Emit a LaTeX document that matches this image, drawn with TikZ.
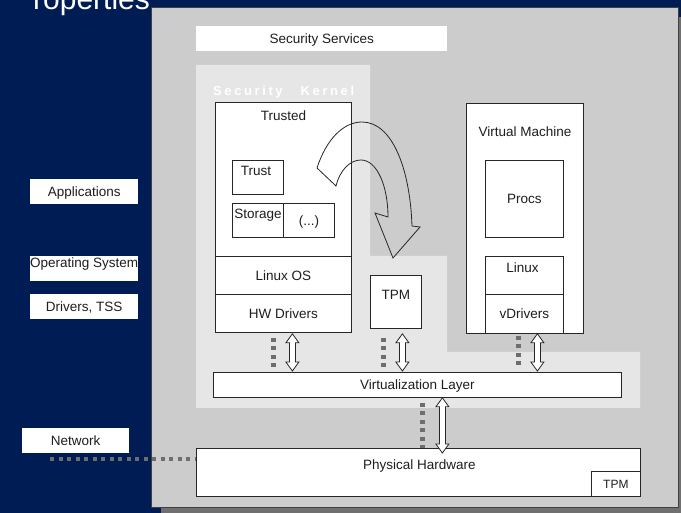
\documentclass[tikz,border=0pt]{standalone}
\usepackage{fontspec}
\setmainfont{Liberation Sans}
\usetikzlibrary{calc}
\definecolor{navy}{RGB}{0,28,84}
\definecolor{panel}{RGB}{204,204,204}
\definecolor{lite}{RGB}{230,230,230}
\definecolor{shadowc}{RGB}{112,112,112}
\definecolor{dotc}{RGB}{110,110,110}
\definecolor{txt}{RGB}{30,30,30}
\newcommand\lsp{\kern2.6pt}
\begin{document}
\begin{tikzpicture}[x=1pt,y=-1pt,
  every node/.style={font=\fontsize{13.5}{16}\selectfont, text=txt, text height=9.7pt, text depth=0pt},
  box/.style={draw=black!85, line width=0.8pt, fill=white, inner sep=0pt, anchor=north west},
  wbox/.style={fill=white, inner sep=0pt, anchor=north west},
  lbl/.style={inner sep=0pt},
  dots/.style={draw=dotc, line width=4.5pt, dash pattern=on 4pt off 4.5pt},
  harrow/.style={draw=black!85, line width=0.8pt, fill=white,
    to path={let \p1=(\tikztostart), \p2=(\tikztotarget) in
      -- (\x1+6.5pt,\y1-9pt) -- (\x1+3pt,\y1-9pt) -- (\x1+3pt,\y2+9pt)
      -- (\x1+6.5pt,\y2+9pt) -- (\x1,\y2) -- (\x1-6.5pt,\y2+9pt)
      -- (\x1-3pt,\y2+9pt) -- (\x1-3pt,\y1-9pt) -- (\x1-6.5pt,\y1-9pt) -- cycle}}
]
\useasboundingbox (0,0) rectangle (681,513);
\clip (0,0) rectangle (681,513);
\fill[navy] (0,0) rectangle (681,513);
\node[anchor=base west, text=white, font=\fontsize{30}{36}\selectfont, inner sep=0pt, text height=21pt] (title) at (33,10) {roperties};

% main panel with shadow
\fill[shadowc] (161,17) rectangle (695,525);
\draw[fill=panel, draw=black!75, line width=0.8pt] (151,7) rectangle (678,507);

% security services
\node[wbox, minimum width=251pt, minimum height=25pt] (secserv) at (196,26) {Security Services};

% light region (security kernel + virtualization)
\fill[lite] (196,65) -- (370,65) -- (370,256) -- (447,256) -- (447,352) -- (640,352) -- (640,408) -- (196,408) -- cycle;
\node[lbl, anchor=west, text=white, font=\fontsize{13}{15}\selectfont\bfseries] (sk) at (213,91)
  {S\lsp e\lsp c\lsp u\lsp r\lsp i\lsp t\lsp y\hspace*{18pt}K\lsp e\lsp r\lsp n\lsp e\lsp l};

% trusted stack
\node[box, minimum width=136pt, minimum height=154pt] (trusted) at (215,102) {};
\node[lbl] (trustedlbl) at ($(trusted.north)+(0,14)$) {Trusted};
\node[box, minimum width=136pt, minimum height=38pt] (linuxos) at (215,256) {Linux OS};
\node[box, minimum width=136pt, minimum height=38pt] (hwdrv) at (215,294) {HW Drivers};
\node[box, minimum width=51pt, minimum height=34pt] (trust) at (232,160) {};
\node[lbl] (trustlbl) at ($(trust.north)+(-2,11)$) {Trust};
\node[box, minimum width=51pt, minimum height=34pt] (storage) at (232,203) {};
\node[lbl] (storagelbl) at ($(storage.north)+(0,11)$) {Storage};
\node[box, minimum width=51pt, minimum height=34pt] (etc) at (283,203) {(...)};

% TPM
\node[box, minimum width=51pt, minimum height=53pt] (tpm) at (370,275) {};
\node[lbl] (tpmlbl) at ($(tpm.north)+(0,20)$) {TPM};

% virtual machine
\node[box, minimum width=117pt, minimum height=230pt] (vm) at (466,103) {};
\node[lbl] (vmlbl) at ($(vm.north)+(0,29)$) {Virtual Machine};
\node[box, minimum width=78pt, minimum height=77pt] (procs) at (485,160) {Procs};
\node[box, minimum width=78pt, minimum height=38pt] (linux) at (485,256) {};
\node[lbl] (linuxlbl) at ($(linux.north)+(-2,12)$) {Linux};
\node[box, minimum width=78pt, minimum height=39pt] (vdrv) at (485,294) {vDrivers};

% curved arrow
\draw[draw=black!85, line width=0.8pt]
  (317,168) .. controls (326,140) and (343,122) .. (362,122)
  .. controls (392,122) and (410,168) .. (412,226)
  -- (420,227) -- (393,258) -- (375,213) -- (388,217)
  .. controls (388,186) and (377,160) .. (361,160)
  .. controls (350,160) and (340,170) .. (336,186) -- cycle;

% virtualization layer and hardware
\node[box, minimum width=408pt, minimum height=25pt] (virt) at (213,372) {Virtualization Layer};
\node[box, minimum width=444pt, minimum height=48pt] (phys) at (196,448) {};
\node[lbl] (physlbl) at ($(phys.north)+(1,17)$) {Physical Hardware};
\node[box, minimum width=49pt, minimum height=25pt, font=\fontsize{12}{14}\selectfont] (tpms) at (591,471) {TPM};

% left labels
\node[wbox, minimum width=108pt, minimum height=25pt] (apps) at (30,179) {Applications};
\node[wbox, minimum width=108pt, minimum height=25pt] (os) at (30,256) {};
\node[lbl] (oslbl) at ($(os.north)+(0,7)$) {Operating System};
\node[wbox, minimum width=108pt, minimum height=25pt] (drv) at (30,294) {Drivers, TSS};
\node[wbox, minimum width=107pt, minimum height=25pt] (net) at (22,428) {Network};

% dotted links
\coordinate (d1t) at ($(hwdrv.south)+(-10,5)$);
\draw[dots] (d1t) -- ($(d1t |- virt.north)+(0,-5)$);
\coordinate (d2t) at ($(tpm.south)+(-12.5,9)$);
\draw[dots] (d2t) -- ($(d2t |- virt.north)+(0,-5)$);
\coordinate (d3t) at ($(vm.south)+(-6.5,2)$);
\draw[dots] (d3t) -- ($(d3t |- virt.north)+(0,-6)$);
\coordinate (d4t) at ($(virt.south)+(5,5)$);
\draw[dots] (d4t) -- (d4t |- phys.north);
\coordinate (nete) at ($(phys.north west)+(0,11)$);
\draw[dots] ($(nete -| net.west)+(28,0)$) -- (nete);

% double arrows
\coordinate (a1t) at ($(hwdrv.south)+(9,1)$);
\coordinate (a1b) at ($(a1t |- virt.north)+(0,-1)$);
\draw[harrow] (a1t) to (a1b);
\coordinate (a2t) at ($(tpm.south)+(6.5,5)$);
\coordinate (a2b) at ($(a2t |- virt.north)+(0,-1)$);
\draw[harrow] (a2t) to (a2b);
\coordinate (a3t) at ($(vm.south)+(12.5,0)$);
\coordinate (a3b) at ($(a3t |- virt.north)+(0,-1)$);
\draw[harrow] (a3t) to (a3b);
\coordinate (a4t) at ($(virt.south)+(25,0)$);
\coordinate (a4b) at ($(a4t |- phys.north)+(0,5)$);
\draw[harrow] (a4t) to (a4b);
\end{tikzpicture}
\end{document}
